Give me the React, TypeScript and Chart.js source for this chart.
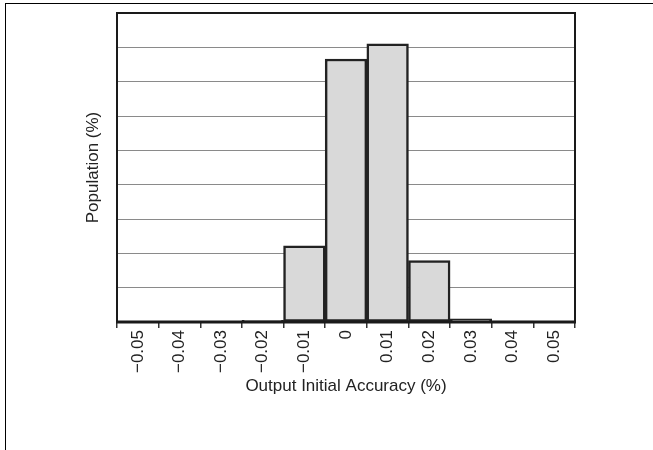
import React, { useEffect, useRef } from "react";
import { Chart, registerables } from "chart.js";

Chart.register(...registerables);

const categories = ["−0.05", "−0.04", "−0.03", "−0.02", "−0.01", "0", "0.01", "0.02", "0.03", "0.04", "0.05"];
const population = [0, 0, 0, 0.25, 11.1, 38.3, 40.5, 8.95, 0.45, 0.15, 0];
const yMax = 45;
const yStep = 5;
const xTitle = "Output Initial Accuracy (%)";
const yTitle = "Population (%)";

const frameBorder = {
  id: "frameBorder",
  afterDraw(chart: any) {
    const { ctx, chartArea } = chart;
    const { left, right, top, bottom } = chartArea;
    ctx.save();
    ctx.strokeStyle = "#1a1a1a";
    ctx.lineWidth = 2;
    ctx.beginPath();
    ctx.moveTo(left, bottom);
    ctx.lineTo(left, top);
    ctx.lineTo(right, top);
    ctx.lineTo(right, bottom);
    ctx.stroke();
    ctx.lineWidth = 3;
    ctx.beginPath();
    ctx.moveTo(left - 1, bottom);
    ctx.lineTo(right + 1, bottom);
    ctx.stroke();
    ctx.restore();
  },
};

const FONT = "Liberation Sans, Arial, sans-serif";

export default function App() {
  const ref = useRef<HTMLCanvasElement>(null);
  useEffect(() => {
    if (!ref.current) return;
    const chart = new Chart(ref.current, {
      type: "bar",
      data: {
        labels: categories,
        datasets: [
          {
            data: population,
            backgroundColor: "#d9d9d9",
            borderColor: "#222222",
            borderWidth: 2.5,
            borderSkipped: false,
            categoryPercentage: 1,
            barPercentage: 1,
          },
        ],
      },
      options: {
        animation: false,
        responsive: false,
        devicePixelRatio: 1,
        layout: { padding: { top: 13, right: 78, bottom: 0, left: 0 } },
        plugins: { legend: { display: false }, tooltip: { enabled: false } },
        scales: {
          x: {
            grid: {
              offset: true,
              drawOnChartArea: false,
              drawTicks: true,
              tickLength: 6,
              color: "#333333",
              lineWidth: 1.5,
            },
            border: { display: false },
            ticks: {
              minRotation: 90,
              maxRotation: 90,
              padding: 2,
              color: "#222222",
              font: { family: FONT, size: 17 },
            },
            title: {
              display: true,
              text: xTitle,
              color: "#222222",
              font: { family: FONT, size: 17 },
              padding: { top: 0, bottom: 53 },
            },
            afterFit(scale: any) {
              scale.height = 128;
            },
          },
          y: {
            min: 0,
            max: yMax,
            ticks: { display: false, stepSize: yStep },
            grid: { color: "#8a8a8a", lineWidth: 1, drawTicks: false },
            border: { display: false },
            title: {
              display: true,
              text: yTitle,
              color: "#222222",
              font: { family: FONT, size: 17 },
              padding: { top: 83, bottom: 0 },
            },
            afterFit(scale: any) {
              scale.width = 117;
            },
          },
        },
      },
      plugins: [frameBorder],
    });
    return () => chart.destroy();
  }, []);
  return (
    <div style={{ position: "fixed", left: 0, top: 0, width: 653, height: 450, background: "#fff" }}>
      <div
        style={{
          position: "absolute",
          left: 5,
          top: 3,
          right: 0,
          bottom: 0,
          borderLeft: "1.5px solid #000",
          borderTop: "1.5px solid #000",
        }}
      />
      <canvas ref={ref} width={653} height={450} style={{ position: "absolute", left: 0, top: 0 }} />
    </div>
  );
}
